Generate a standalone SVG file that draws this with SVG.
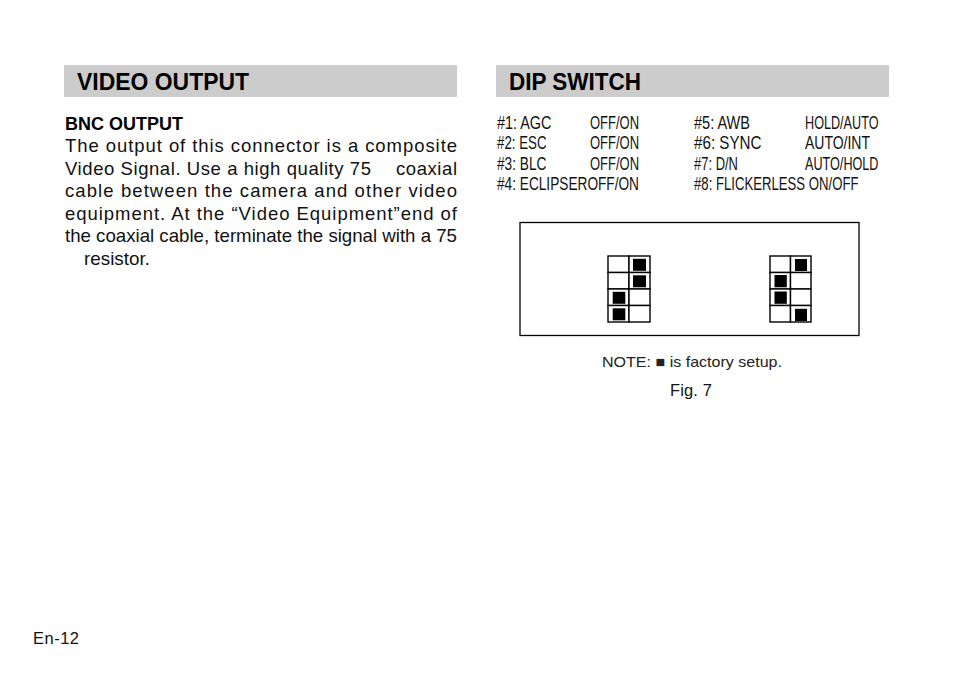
<svg xmlns="http://www.w3.org/2000/svg" width="954" height="677" viewBox="0 0 954 677">
<style>
.bar{fill:#cccccc}
.h{font-family:"Liberation Sans",Arial,sans-serif;font-weight:bold;font-size:23px;fill:#000}
.sub{font-family:"Liberation Sans",Arial,sans-serif;font-weight:bold;font-size:17.5px;fill:#000}
.body{font-family:"Liberation Sans",Arial,sans-serif;font-size:18.5px;fill:#111}
.cond{font-family:"Liberation Sans",Arial,sans-serif;font-size:19px;fill:#111}
.small{font-family:"Liberation Sans","DejaVu Sans",Arial,sans-serif;font-size:15px;fill:#222}
.cap{font-family:"Liberation Sans",Arial,sans-serif;font-size:16.5px;fill:#111}
.grid{fill:#fff;stroke:#000;stroke-width:1.4}
.on{fill:#000}
</style>
<rect width="954" height="677" fill="#fff"/>
<g id="video-output">
<rect class="bar" x="64" y="65" width="393" height="32"/>
<text class="h" x="77" y="90" textLength="172" lengthAdjust="spacingAndGlyphs">VIDEO OUTPUT</text>
<text class="sub" x="65" y="130" textLength="118" lengthAdjust="spacingAndGlyphs">BNC OUTPUT</text>
<text class="body" x="65" y="152" textLength="392" lengthAdjust="spacing">The output of this connector is a composite</text>
<text class="body" x="65" y="174.5" textLength="306" lengthAdjust="spacing">Video Signal. Use a high quality 75</text>
<text class="body" x="396" y="174.5" textLength="61" lengthAdjust="spacing">coaxial</text>
<text class="body" x="65" y="197" textLength="392" lengthAdjust="spacing">cable between the camera and other video</text>
<text class="body" x="65" y="219.5" textLength="392" lengthAdjust="spacing">equipment.  At the “Video Equipment”end of</text>
<text class="body" x="65" y="242" textLength="392" lengthAdjust="spacingAndGlyphs">the coaxial cable, terminate the signal with a 75</text>
<text class="body" x="84" y="264.5" textLength="66" lengthAdjust="spacingAndGlyphs">resistor.</text>
</g>
<g id="dip-switch">
<rect class="bar" x="496" y="65" width="393" height="32"/>
<text class="h" x="509" y="90" textLength="132" lengthAdjust="spacingAndGlyphs">DIP SWITCH</text>
</g>
<g id="dip-list">
<text class="cond" x="497" y="128.5" textLength="54.5" lengthAdjust="spacingAndGlyphs">#1: AGC</text>
<text class="cond" x="590" y="128.5" textLength="49" lengthAdjust="spacingAndGlyphs">OFF/ON</text>
<text class="cond" x="694" y="128.5" textLength="56" lengthAdjust="spacingAndGlyphs">#5: AWB</text>
<text class="cond" x="805" y="128.5" textLength="73.5" lengthAdjust="spacingAndGlyphs">HOLD/AUTO</text>
<text class="cond" x="497" y="149.3" textLength="49.5" lengthAdjust="spacingAndGlyphs">#2: ESC</text>
<text class="cond" x="590" y="149.3" textLength="49" lengthAdjust="spacingAndGlyphs">OFF/ON</text>
<text class="cond" x="694" y="149.3" textLength="67.5" lengthAdjust="spacingAndGlyphs">#6: SYNC</text>
<text class="cond" x="805" y="149.3" textLength="65" lengthAdjust="spacingAndGlyphs">AUTO/INT</text>
<text class="cond" x="497" y="169.6" textLength="49.5" lengthAdjust="spacingAndGlyphs">#3: BLC</text>
<text class="cond" x="590" y="169.6" textLength="49" lengthAdjust="spacingAndGlyphs">OFF/ON</text>
<text class="cond" x="694" y="169.6" textLength="44" lengthAdjust="spacingAndGlyphs">#7: D/N</text>
<text class="cond" x="805" y="169.6" textLength="73.5" lengthAdjust="spacingAndGlyphs">AUTO/HOLD</text>
<text class="cond" x="497" y="190.3" textLength="142" lengthAdjust="spacingAndGlyphs">#4: ECLIPSEROFF/ON</text>
<text class="cond" x="694" y="190.3" textLength="164.5" lengthAdjust="spacingAndGlyphs">#8: FLICKERLESS ON/OFF</text>
</g>
<g id="figure-box">
<rect x="520" y="222.5" width="339" height="113" fill="none" stroke="#000" stroke-width="1.3"/>
</g>
<g id="switch-1-4">
<rect class="grid" x="608" y="256" width="21" height="16.5"/>
<rect class="grid" x="629" y="256" width="21" height="16.5"/>
<rect class="grid" x="608" y="272.5" width="21" height="16.5"/>
<rect class="grid" x="629" y="272.5" width="21" height="16.5"/>
<rect class="grid" x="608" y="289" width="21" height="16.5"/>
<rect class="grid" x="629" y="289" width="21" height="16.5"/>
<rect class="grid" x="608" y="305.5" width="21" height="16.5"/>
<rect class="grid" x="629" y="305.5" width="21" height="16.5"/>
<rect class="on" x="633" y="258.8" width="13" height="12"/>
<rect class="on" x="633" y="275.3" width="13" height="12"/>
<rect class="on" x="612.7" y="291.8" width="12.6" height="12"/>
<rect class="on" x="612.7" y="308.3" width="12.6" height="12"/>
</g>
<g id="switch-5-8">
<rect class="grid" x="770" y="256" width="20.5" height="16.5"/>
<rect class="grid" x="790.5" y="256" width="20.5" height="16.5"/>
<rect class="grid" x="770" y="272.5" width="20.5" height="16.5"/>
<rect class="grid" x="790.5" y="272.5" width="20.5" height="16.5"/>
<rect class="grid" x="770" y="289" width="20.5" height="16.5"/>
<rect class="grid" x="790.5" y="289" width="20.5" height="16.5"/>
<rect class="grid" x="770" y="305.5" width="20.5" height="16.5"/>
<rect class="grid" x="790.5" y="305.5" width="20.5" height="16.5"/>
<rect class="on" x="795" y="259" width="12" height="12"/>
<rect class="on" x="774.5" y="275" width="12.3" height="12.3"/>
<rect class="on" x="774.5" y="291.5" width="12.3" height="12.3"/>
<rect class="on" x="795" y="308.8" width="12" height="12.3"/>
</g>
<g id="captions">
<text class="small" x="602" y="367" textLength="180" lengthAdjust="spacingAndGlyphs">NOTE: ■ is factory setup.</text>
<text class="cap" x="670" y="396" textLength="42" lengthAdjust="spacing">Fig. 7</text>
<text class="cap" x="33" y="644" font-size="17" textLength="46" lengthAdjust="spacing">En-12</text>
</g>
<g id="connectors"/>
</svg>
